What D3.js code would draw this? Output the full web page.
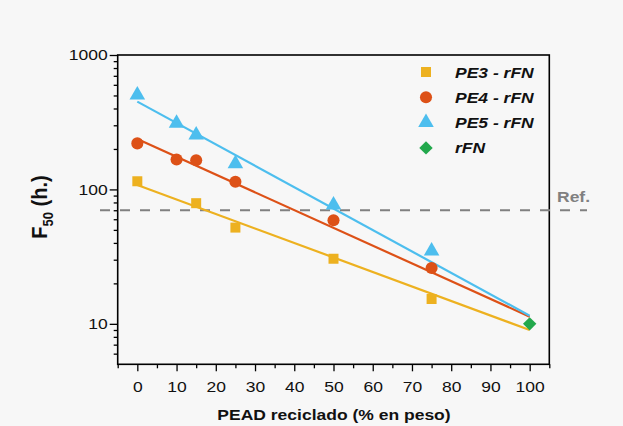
<!DOCTYPE html>
<html>
<head>
<meta charset="utf-8">
<script src="https://cdn.jsdelivr.net/npm/d3@7"></script>
<style>
  body { margin: 0; background: #f7f7f7; }
  svg { display: block; font-family: "Liberation Sans", Arial, sans-serif; }
</style>
</head>
<body>
<div id="chart"></div>
<script>
// data
const pe3X = [0, 15, 25, 50, 75];
const pe3Y = [115, 79, 52, 30.5, 15.3];
const pe4X = [0, 10, 15, 25, 50, 75];
const pe4Y = [220, 167, 165, 114, 59, 26];
const pe5X = [0, 10, 15, 25, 50, 75];
const pe5Y = [505, 311, 254, 155, 76.5, 34.8];
const rfnX = [100];
const rfnY = [10];

// fitted lines (value at 0 and at 100 %)
const fitX = [0, 100];
const pe3Fit = [108, 9.0];
const pe4Fit = [237, 11.3];
const pe5Fit = [450, 11.5];

const refValue = 70;

const xTicks = [0, 10, 20, 30, 40, 50, 60, 70, 80, 90, 100];
const xMinor = [-5, 5, 15, 25, 35, 45, 55, 65, 75, 85, 95, 105];
const yTicks = [10, 100, 1000];
const yMinor = [6, 7, 8, 9, 20, 30, 40, 50, 60, 70, 80, 90, 200, 300, 400, 500, 600, 700, 800, 900];

const legendNames = ['PE3 - rFN', 'PE4 - rFN', 'PE5 - rFN', 'rFN'];

const svgWidth = 623;
const svgHeight = 426;
const plot = { left: 117.7, right: 549.3, top: 55, bottom: 364.3 };
const stretch = 1.13; // text in the picture is a bit wide

const colors = { pe3: '#EDB120', pe4: '#DD5117', pe5: '#4DBEEE', rfn: '#22A84C' };

const svg = d3.select('#chart')
  .append('svg')
  .attr('width', svgWidth)
  .attr('height', svgHeight);

const x = d3.scaleLinear().domain([-5, 105]).range([plot.left, plot.right]);
const y = d3.scaleLog().domain([5, 1000]).range([plot.bottom, plot.top]);

// axes
const xAxis = svg.append('g')
  .attr('transform', `translate(0, ${plot.bottom})`)
  .call(d3.axisBottom(x).tickValues(xTicks).tickSize(7).tickPadding(6).tickFormat(d3.format('d')));
svg.append('g')
  .attr('transform', `translate(0, ${plot.bottom})`)
  .call(d3.axisBottom(x).tickValues(xMinor).tickSize(4).tickFormat(''));

const yAxis = svg.append('g')
  .attr('transform', `translate(${plot.left}, 0)`)
  .call(d3.axisLeft(y).tickValues(yTicks).tickSize(8).tickPadding(2).tickFormat(d3.format('d')));
svg.append('g')
  .attr('transform', `translate(${plot.left}, 0)`)
  .call(d3.axisLeft(y).tickValues(yMinor).tickSize(4).tickFormat(''));

svg.selectAll('.domain').remove();
svg.selectAll('.tick line').attr('stroke', '#000').attr('stroke-width', 1.3);
svg.selectAll('.tick text').attr('font-size', 15.5).attr('fill', '#111');
xAxis.selectAll('.tick text').attr('dy', '0.95em').attr('transform', `scale(${stretch},1)`);
yAxis.selectAll('.tick text')
  .attr('x', -10 / stretch)
  .attr('transform', `scale(${stretch},1)`);

// frame
svg.append('rect')
  .attr('x', plot.left)
  .attr('y', plot.top)
  .attr('width', plot.right - plot.left)
  .attr('height', plot.bottom - plot.top)
  .attr('fill', 'none')
  .attr('stroke', '#000')
  .attr('stroke-width', 1.6);

// reference line
svg.append('line')
  .attr('x1', 100)
  .attr('x2', 587)
  .attr('y1', y(refValue))
  .attr('y2', y(refValue))
  .attr('stroke', '#808080')
  .attr('stroke-width', 2.2)
  .attr('stroke-dasharray', '10,10');

svg.append('text')
  .attr('transform', `translate(557, ${y(refValue) - 8}) scale(${stretch},1)`)
  .attr('fill', '#808080')
  .attr('font-size', 15.5)
  .attr('font-weight', 'bold')
  .text('Ref.');

// fit lines
const line = d3.line().x(d => x(d[0])).y(d => y(d[1]));
[[pe3Fit, colors.pe3], [pe4Fit, colors.pe4], [pe5Fit, colors.pe5]].forEach(([fit, c]) => {
  svg.append('path')
    .datum(fitX.map((v, i) => [v, fit[i]]))
    .attr('d', line)
    .attr('fill', 'none')
    .attr('stroke', c)
    .attr('stroke-width', 2.2);
});

// points
const symSquare = d3.symbol().type(d3.symbolSquare).size(100);
const symCircle = d3.symbol().type(d3.symbolCircle).size(115);
const symTri = d3.symbol().type(d3.symbolTriangle).size(105);
const symDiamond = d3.symbol().type(d3.symbolSquare).size(90);

function drawPoints(xs, ys, sym, color, rot) {
  svg.append('g').selectAll('path')
    .data(xs.map((v, i) => [v, ys[i]]))
    .enter()
    .append('path')
    .attr('d', sym)
    .attr('transform', d => `translate(${x(d[0])}, ${y(d[1])})${rot ? ' rotate(45)' : ''}`)
    .attr('fill', color);
}
drawPoints(pe3X, pe3Y, symSquare, colors.pe3);
drawPoints(pe4X, pe4Y, symCircle, colors.pe4);
drawPoints(pe5X, pe5Y, symTri, colors.pe5);
drawPoints(rfnX, rfnY, symDiamond, colors.rfn, true);

// legend
const legendSyms = [symSquare, symCircle, symTri, symDiamond];
const legendColors = [colors.pe3, colors.pe4, colors.pe5, colors.rfn];
const legend = svg.append('g');
legendNames.forEach((name, i) => {
  const ly = 72 + i * 25.3;
  legend.append('path')
    .attr('d', legendSyms[i])
    .attr('transform', `translate(426, ${ly})${i === 3 ? ' rotate(45)' : ''}`)
    .attr('fill', legendColors[i]);
  legend.append('text')
    .attr('transform', `translate(455, ${ly + 5.5}) scale(${stretch},1)`)
    .attr('font-size', 15.5)
    .attr('font-weight', 'bold')
    .attr('font-style', 'italic')
    .attr('fill', '#111')
    .text(name);
});

// axis titles
svg.append('text')
  .attr('transform', `translate(334, 420) scale(${stretch},1)`)
  .attr('text-anchor', 'middle')
  .attr('font-size', 15.5)
  .attr('font-weight', 'bold')
  .attr('fill', '#111')
  .text('PEAD reciclado (% en peso)');

const yTitle = svg.append('text')
  .attr('transform', `translate(47, 207) scale(${stretch},1) rotate(-90)`)
  .attr('text-anchor', 'middle')
  .attr('font-size', 20)
  .attr('font-weight', 'bold')
  .attr('fill', '#111');
yTitle.append('tspan').text('F');
yTitle.append('tspan').attr('font-size', 13).attr('dy', 5).text('50');
yTitle.append('tspan').attr('dy', -5).text(' (h.)');
</script>
</body>
</html>
